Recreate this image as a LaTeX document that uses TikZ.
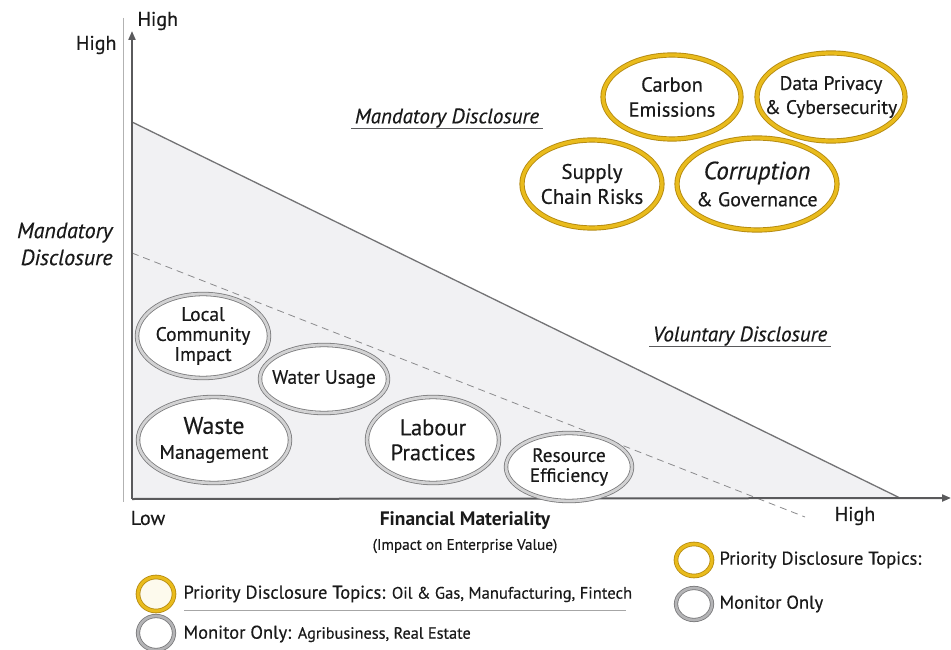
\documentclass[tikz,border=0pt]{standalone}
\usepackage{fontspec}
\setmainfont{PT Sans}[UprightFeatures={FakeBold=0.4},ItalicFeatures={FakeBold=0.4}]
\usetikzlibrary{arrows.meta,shapes.geometric}
\definecolor{goldring}{HTML}{E9BB1C}
\definecolor{goldedge}{HTML}{B58A10}
\definecolor{silverring}{HTML}{B4B4B6}
\definecolor{silveredge}{HTML}{7A7A7C}
\definecolor{zonefill}{HTML}{F1F1F3}
\definecolor{axisgray}{HTML}{5A5A5C}
\definecolor{inkgray}{HTML}{1A1A1A}
\newcommand{\fs}[2]{\fontsize{#1}{#2}\selectfont}
\tikzset{
  % ellipse size comes from minimum width/height only
  topic/.style={ellipse, fill=white, align=center, inner sep=-30pt,
    text=inkgray, font=\fs{20}{24}},
  priority/.style={topic, draw=goldedge, double=goldring, double distance=3.4pt, line width=0.9pt},
  monitor/.style={topic, draw=silveredge, double=silverring!60!white, double distance=2.8pt, line width=0.8pt},
  ringkey/.style={ellipse, fill=white, minimum width=36pt, minimum height=34pt, inner sep=0pt},
  axislabel/.style={text=inkgray, font=\fs{20}{22}},
  zonelabel/.style={text=inkgray, font=\fs{21}{24}\itshape},
  keytext/.style={text=inkgray, anchor=west, font=\fs{18.5}{20}},
}
\begin{document}
\begin{tikzpicture}[x=1pt,y=-1pt]
  \useasboundingbox[fill=white] (0,0) rectangle (951,650);

  % shaded disclosure zone under the threshold line
  \coordinate (zt) at (132,122);
  \coordinate (zr) at (900,498);
  \coordinate (zo) at (132,498);
  \fill[zonefill] (zt) -- (zr) -- (zo) -- cycle;
  \draw[axisgray!85, line width=1.3pt] (zt) -- (zr);

  % dashed mandatory threshold
  \coordinate (ds) at (132,253);
  \coordinate (de) at (805,517);
  \draw[axisgray!70, dashed, dash pattern=on 7pt off 5pt, line width=0.8pt] (ds) -- (de);

  % outer guide line
  \coordinate (gt) at (123,18);
  \coordinate (gb) at (123,502);
  \draw[gray!60, line width=1pt] (gt) -- (gb);

  % axes
  \coordinate (yb) at (132,499);
  \coordinate (yt) at (132,31);
  \coordinate (xe) at (951,498);
  \draw[axisgray, line width=2pt, -{Triangle[length=9pt,width=7pt]}] (yb) -- (yt);
  \draw[axisgray, line width=2pt, -{Triangle[length=9pt,width=7pt]}] (yb) -- (xe);

  % axis texts
  \node[axislabel, anchor=west] (hightop) at (134,21) {High};
  \node[axislabel, anchor=east] (highleft) at (120,45) {High};
  \node[zonelabel, align=right, anchor=east, font=\fs{22}{27}\itshape] (mandleft) at (116,244) {Mandatory\\Disclosure};
  \node[axislabel] (low) at (148,518) {Low};
  \node[axislabel] (highright) at (855,516) {High};
  \node[axislabel, font=\fs{19.5}{22}\bfseries] (finmat) at (465,521) {Financial Materiality};
  \node[text=inkgray, font=\fs{15.3}{18}] (impact) at (465,546) {(Impact on Enterprise Value)};

  % zone titles
  \node[zonelabel] (mandzone) at (447,118) {Mandatory Disclosure};
  \draw[axisgray, line width=1pt] ([yshift=3pt]mandzone.south west) -- ([yshift=3pt]mandzone.south east);
  \node[zonelabel] (volzone) at (740,336) {Voluntary Disclosure};
  \draw[axisgray, line width=1pt] ([yshift=3pt]volzone.south west) -- ([yshift=3pt]volzone.south east);

  % priority topics
  \node[priority, minimum width=138pt, minimum height=84pt, font=\fs{20.5}{25}] (carbon) at (672,97) {Carbon\\Emissions};
  \node[priority, minimum width=148pt, minimum height=88pt, font=\fs{19.5}{24}] (privacy) at (831,97) {Data Privacy\\\&~Cybersecurity};
  \node[priority, minimum width=140pt, minimum height=88pt, font=\fs{21}{25}] (supply) at (592,184) {Supply\\Chain Risks};
  \node[priority, minimum width=160pt, minimum height=92pt, font=\fs{20}{27}] (corrupt) at (757,184) {{\fs{25}{27}\itshape Corruption}\\\&~Governance};

  % monitored topics
  \node[monitor, minimum width=132pt, minimum height=84pt, font=\fs{19.5}{20}] (community) at (203,336) {Local\\Community\\Impact};
  \node[monitor, minimum width=128pt, minimum height=68pt, font=\fs{19.4}{22}] (water) at (324,379) {Water Usage};
  \node[monitor, minimum width=152pt, minimum height=86pt, font=\fs{19.5}{25}] (waste) at (214,440) {{\fs{24}{25}Waste}\\Management};
  \node[monitor, minimum width=132pt, minimum height=86pt, font=\fs{22.5}{25}] (labour) at (433,440) {Labour\\Practices};
  \node[monitor, minimum width=126pt, minimum height=68pt, font=\fs{19.2}{20}] (resource) at (569,467) {Resource\\Efficiency};

  % bottom key
  \node[ringkey, draw=goldedge, double=goldring, double distance=3pt, line width=0.8pt, fill=goldring!8] (keygold) at (156,594) {};
  \node[keytext] (keygoldtxt) at (180,594) {Priority Disclosure Topics: {\fs{16.6}{20}Oil \& Gas, Manufacturing, Fintech}};
  \draw[gray!70, line width=0.9pt] (184,610) -- (626,610);
  \node[ringkey, draw=silveredge, double=silverring, double distance=2.6pt, line width=0.8pt] (keysilver) at (156,633) {};
  \node[keytext] (keysilvertxt) at (180,634) {Monitor Only: {\fs{16.3}{18}Agribusiness, Real Estate}};

  % right key
  \node[ringkey, minimum width=36pt, minimum height=32pt, draw=goldedge, double=goldring, double distance=3pt, line width=0.8pt] (rkeygold) at (694,560) {};
  \node[keytext] (rkeygoldtxt) at (716,560) {Priority Disclosure Topics:};
  \node[ringkey, minimum width=36pt, minimum height=32pt, draw=silveredge, double=silverring, double distance=2.6pt, line width=0.8pt] (rkeysilver) at (694,604) {};
  \node[keytext] (rkeysilvertxt) at (716,604) {Monitor Only};
\end{tikzpicture}
\end{document}
